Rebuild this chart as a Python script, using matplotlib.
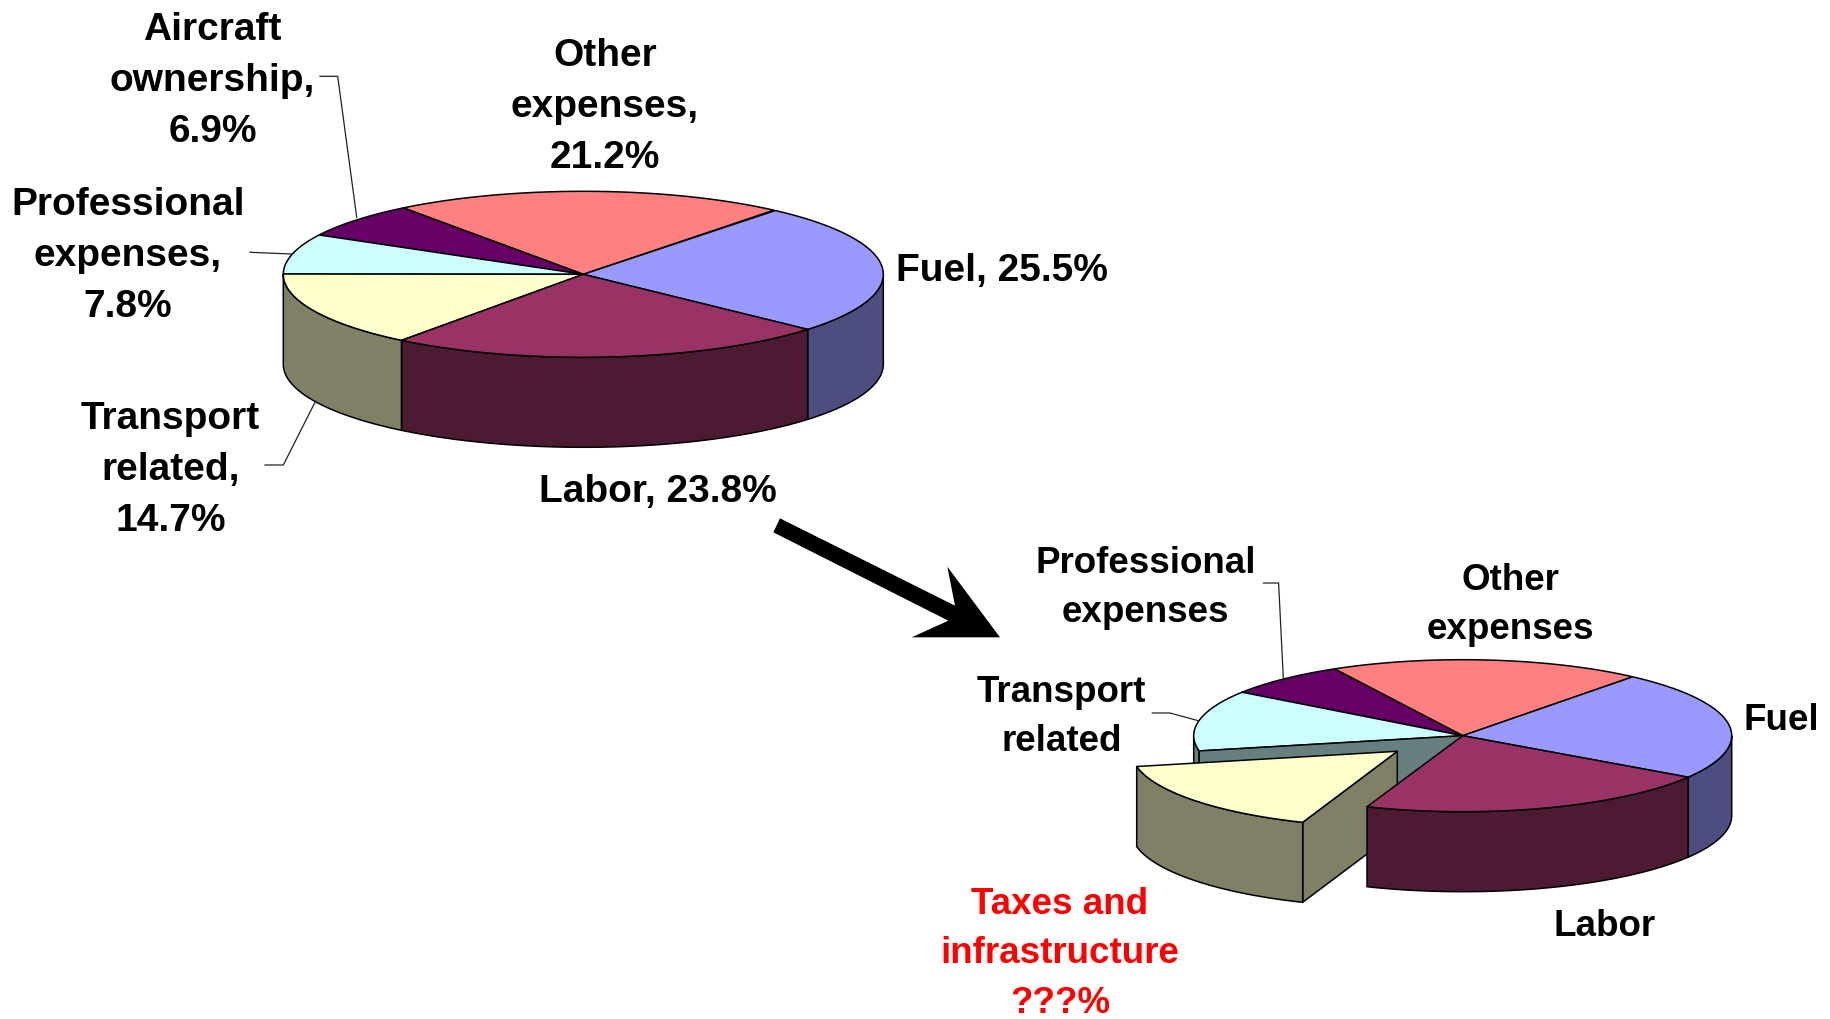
"""Two 3D-look pie charts (airline cost split), second one with an exploded slice."""
import matplotlib
matplotlib.use("Agg")
import matplotlib.pyplot as plt
from matplotlib.patches import Polygon
import numpy as np

plt.rcParams["font.family"] = ["Liberation Sans", "DejaVu Sans"]

# share of cost, slices run clockwise from the fuel slice
top_names = ["Fuel", "Labor", "Transport related", "Professional expenses",
             "Aircraft ownership", "Other expenses"]
top_values = [25.5, 23.8, 14.7, 7.8, 6.9, 21.2]

low_names = ["Fuel", "Labor", "Taxes and infrastructure", "Transport related",
             "Professional expenses", "Other expenses"]
low_values = [23.3, 21.6, 16.0, 12.9, 7.4, 18.8]

BLUE = ("#9999FF", "#4D4D80")
WINE = ("#993366", "#4D1A33")
CREAM = ("#FFFFCC", "#808066")
CYAN = ("#CCFFFF", "#668080")
PURPLE = ("#660066", "#330033")
SALMON = ("#FF8080", "#804040")

top_colors = [BLUE, WINE, CREAM, CYAN, PURPLE, SALMON]
low_colors = [BLUE, WINE, CREAM, CYAN, PURPLE, SALMON]

EDGE = dict(edgecolor="black", linewidth=1.1, joinstyle="round")


def rim(cx, cy, rx, ry, a0, a1, n=60):
    t = np.radians(np.linspace(a0, a1, n))
    return np.column_stack([cx + rx * np.cos(t), cy - ry * np.sin(t)])


def slice_angles(values, start):
    # slices run clockwise from start
    ends = start - np.cumsum(values) * 3.6
    starts = np.r_[start, ends[:-1]]
    return starts, ends


def draw_slice(ax, cx, cy, rx, ry, depth, a0, a1, colors):
    # a0 > a1. outer wall is only visible on the front half of the ellipse
    top, side = colors
    a0n = (a0 + 180) % 360 - 180
    a1n = a0n - (a0 - a1)
    for lo, hi in ((a1n, min(a0n, 0)), (a1n + 360, min(a0n + 360, 0)),
                   (a1n - 360, min(a0n - 360, 0))):
        lo = max(lo, -180)
        if hi > lo:
            p = rim(cx, cy, rx, ry, hi, lo)
            wall = np.vstack([p, (p + [0, depth])[::-1]])
            ax.add_patch(Polygon(wall, closed=True, facecolor=side, **EDGE))
    outline = np.vstack([[(cx, cy)], rim(cx, cy, rx, ry, a0, a1)])
    ax.add_patch(Polygon(outline, closed=True, facecolor=top, **EDGE))


fig = plt.figure(figsize=(18.31, 10.2), dpi=100)
ax = fig.add_axes([0, 0, 1, 1])
ax.set_xlim(0, 1831)
ax.set_ylim(1020, 0)
ax.axis("off")

# upper pie
g = (583.3, 275.3, 300, 83, 90)
s, e = slice_angles(top_values, 50.2)
for i in [5, 4, 3, 0, 2, 1]:
    draw_slice(ax, *g, s[i], e[i], top_colors[i])

# lower pie, slice 2 pulled out
g = (1462.7, 736.7, 269, 76, 80)
s, e = slice_angles(low_values, 50.8)
for i in [5, 4, 0]:
    draw_slice(ax, *g, s[i], e[i], low_colors[i])
# inner face left open by the missing slice
draw_slice(ax, *g, s[3], e[3], low_colors[3])
cx, cy, rx, ry, depth = g
p = rim(cx, cy, rx, ry, s[3], s[3], 1)[0]
ax.add_patch(Polygon([(cx, cy), p, p + [0, depth], (cx, cy + depth)], closed=True,
                     facecolor=CYAN[1], **EDGE))
# pulled out slice
gx = (cx - 65.4, cy + 15.6, 266, ry, depth)
corner = rim(gx[0], gx[1], gx[2], ry, s[2], s[2], 1)[0]
ax.add_patch(Polygon([(gx[0], gx[1]), (gx[0], gx[1] + depth), corner + [0, depth], corner],
                     closed=True, facecolor=CREAM[1], **EDGE))
draw_slice(ax, *gx, s[2], e[2], low_colors[2])
draw_slice(ax, *g, s[1], e[1], low_colors[1])

# arrow between the two pies
arrow = np.array([(120, 58), (645, 320), (622, 203), (780, 415), (515, 415),
                  (625, 365), (100, 100)]) / 3 + [740, 500]
ax.add_patch(Polygon(arrow, closed=True, facecolor="black", edgecolor="none"))

# leader lines
leaders = [
    [(320, 77.3), (337.7, 77.3), (356.7, 218.3)],
    [(250, 253.3), (291.7, 255)],
    [(265, 466), (283.3, 466), (315, 403.3)],
    [(1263.5, 584), (1278.6, 584), (1283.3, 679)],
    [(1152.3, 714), (1170, 714), (1198.3, 721.7)],
]
for pts in leaders:
    xs, ys = zip(*pts)
    ax.plot(xs, ys, color="#222222", lw=0.9)

# labels
BIG = 28
SMALL = 26.5
labels = [
    ("Aircraft\nownership,\n6.9%", 212.5, 81, BIG, "black", 1.55),
    ("Other\nexpenses,\n21.2%", 605, 107, BIG, "black", 1.55),
    ("Professional\nexpenses,\n7.8%", 128, 256, BIG, "black", 1.55),
    ("Fuel, 25.5%", 1002, 271, BIG, "black", 1.55),
    ("Transport\nrelated,\n14.7%", 170.5, 470, BIG, "black", 1.55),
    ("Labor, 23.8%", 657.4, 492, BIG, "black", 1.55),
    ("Professional\nexpenses", 1145.5, 588, SMALL, "black", 1.54),
    ("Other\nexpenses", 1510, 605, SMALL, "black", 1.54),
    ("Transport\nrelated", 1061.5, 717, SMALL, "black", 1.54),
    ("Fuel", 1781, 721, SMALL, "black", 1.54),
    ("Labor", 1604.4, 927, SMALL, "black", 1.54),
    ("Taxes and\ninfrastructure\n???%", 1060, 954, SMALL, "#FF0000", 1.54),
]
for txt, x, y, size, col, ls in labels:
    ax.text(x, y, txt, ha="center", va="center", ma="center", fontsize=size,
            fontweight="bold", color=col, linespacing=ls)

fig.savefig("out.png", dpi=100, facecolor="white")
